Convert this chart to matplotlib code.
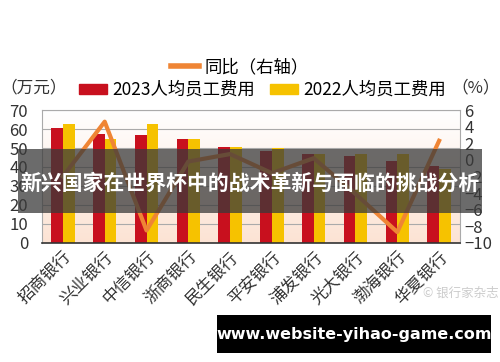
import matplotlib
matplotlib.use('Agg')
import matplotlib.pyplot as plt
import matplotlib.patches as mpatches
from matplotlib.lines import Line2D
import numpy as np

plt.rcParams['font.family'] = ['Noto Sans CJK SC', 'DejaVu Sans']

banks = ['招商银行', '兴业银行', '中信银行', '浙商银行', '民生银行',
         '平安银行', '浦发银行', '光大银行', '渤海银行', '华夏银行']
cost_2023 = [60.4, 57.3, 57.0, 54.6, 50.5, 48.6, 47.0, 45.8, 43.0, 40.4]
cost_2022 = [62.5, 54.7, 62.5, 54.7, 50.4, 50.2, 47.0, 46.8, 47.0, 39.1]
yoy = [-2.0, 4.6, -8.5, -0.2, 0.7, -1.6, 0.2, -4.1, -8.7, 2.3]

RED = '#C8101E'
YELLOW = '#F6C200'
ORANGE = '#EF8535'

fig = plt.figure(figsize=(5, 3.62), dpi=100)
ax = fig.add_axes([0.084, 0.329, 0.836, 0.367])

x = np.arange(len(banks))
w = 0.28
# gradient background: white on top, peach at the bottom
grad = np.linspace(0, 1, 256).reshape(-1, 1)
top_c = np.array([1.0, 1.0, 1.0])
bot_c = np.array([0.99, 0.89, 0.83])
img = top_c * (1 - grad[..., None]) + bot_c * grad[..., None]
img = np.clip(img, 0, 1)
ax.imshow(img, extent=[-0.5, len(banks) - 0.5, 0, 70], aspect='auto', zorder=0)

ax.bar(x - w / 2, cost_2023, w, color=RED, zorder=2)
ax.bar(x + w / 2, cost_2022, w, color=YELLOW, zorder=2)
ax.set_xlim(-0.5, len(banks) - 0.5)
ax.set_ylim(0, 70)
ax.set_yticks(range(0, 71, 10))
ax.yaxis.grid(True, color='#AAAAAA', lw=0.8, zorder=1)
ax.set_axisbelow(True)
ax.set_xticks(x)
ax.set_xticklabels(banks, rotation=45, ha='right', va='top', rotation_mode='anchor',
                   fontsize=12, color='#333333')
ax.tick_params(axis='y', length=0, labelsize=12, labelcolor='#333333', pad=10)
ax.tick_params(axis='x', length=0, pad=4)
for s in ['top', 'left', 'right']:
    ax.spines[s].set_color('#AAAAAA')
ax.spines['bottom'].set_color('#333333')
ax.spines['bottom'].set_linewidth(1.2)

ax2 = ax.twinx()
ax2.plot(x, yoy, color=ORANGE, lw=3, zorder=3)
ax2.set_ylim(-10, 6)
ax2.set_yticks(range(-10, 7, 2))
ax2.set_yticklabels([str(v).replace('-', '\u2212') for v in range(-10, 7, 2)])
ax2.tick_params(axis='y', length=0, labelsize=12, labelcolor='#333333', pad=3)
for s in ax2.spines.values():
    s.set_visible(False)

# legends
h_line = [Line2D([0], [0], color=ORANGE, lw=4)]
fig.legend(h_line, ['同比（右轴）'], loc='center', bbox_to_anchor=(0.48, 0.815),
           frameon=False, fontsize=12.5, handlelength=1.6, handletextpad=0.3)
h_bars = [mpatches.Patch(color=RED), mpatches.Patch(color=YELLOW)]
fig.legend(h_bars, ['2023人均员工费用', '2022人均员工费用'], loc='center',
           bbox_to_anchor=(0.525, 0.752), ncol=2, frameon=False, fontsize=12.5,
           handlelength=1.6, handleheight=0.5, handletextpad=0.3, columnspacing=0.9)
fig.text(0.0, 0.757, '（万元）', fontsize=12, color='#333333', va='center', ha='left')
fig.text(1.0, 0.757, '（%）', fontsize=12, color='#333333', va='center', ha='right')

# watermark
fig.text(0.998, 0.19, '\u00a9 银行家杂志', fontsize=9, color='#CCCCCC', ha='right', va='center')

# banner overlay
fig.patches.append(mpatches.Rectangle((0.036, 0.412), 0.928, 0.177, transform=fig.transFigure,
                                      facecolor='#3A3A3A', alpha=0.75, zorder=10))
fig.text(0.5, 0.495, '新兴国家在世界杯中的战术革新与面临的挑战分析', fontsize=15,
         fontweight='bold', color='white', ha='center', va='center', zorder=11)

# bottom url box
fig.patches.append(mpatches.Rectangle((0.434, 0.025), 0.548, 0.105, transform=fig.transFigure,
                                      facecolor='black', zorder=10))
fig.text(0.708, 0.077, 'www.website-yihao-game.com', fontsize=11.5, fontweight='bold',
         color='white', ha='center', va='center', family='DejaVu Sans', zorder=11)

fig.savefig('out.png', dpi=100)
